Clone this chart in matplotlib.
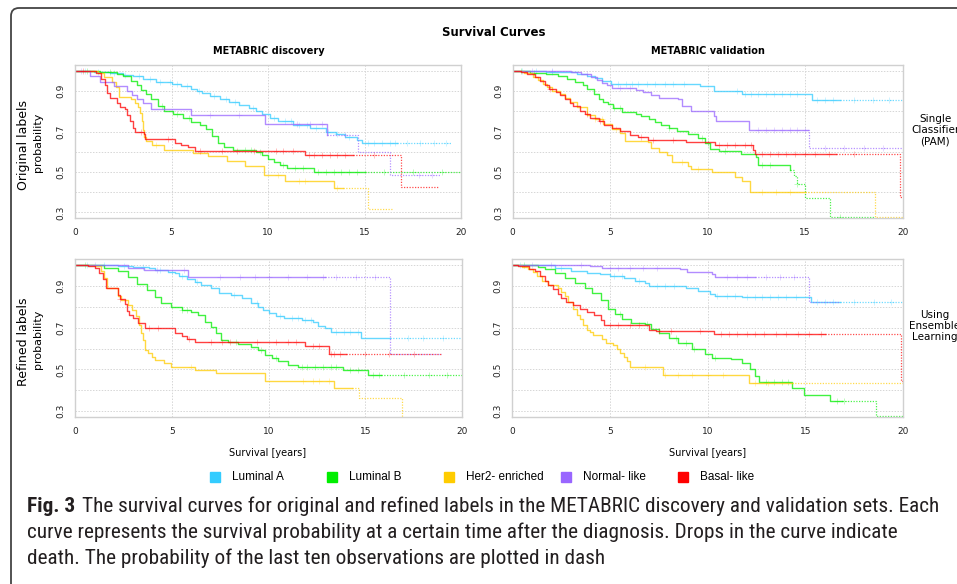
import matplotlib
matplotlib.use("Agg")
import matplotlib.pyplot as plt
import numpy as np
from matplotlib import font_manager as fm
from matplotlib.patches import FancyBboxPatch

# series names and colours
subtypes = ["Luminal A", "Luminal B", "Her2- enriched", "Normal- like", "Basal- like"]
colors = ["#33ccff", "#00ee00", "#ffcc00", "#9966ff", "#ff0000"]

col_titles = ["METABRIC discovery", "METABRIC validation"]
row_labels = ["Original labels", "Refined labels"]
row_notes = ["Single\nClassifier\n(PAM)", "Using\nEnsemble\nLearning"]
xticks = [0, 5, 10, 15, 20]
yticks = [0.3, 0.5, 0.7, 0.9]

# ---- discovery / original labels (p1) ----
# each curve: step times, survival, (start of dashed tail, last time), censor times
p1_luma_t = [0, 1.0, 1.8, 2.5, 3.0, 3.5, 4.2, 5.0, 5.5, 6.0, 6.3, 6.6, 7.0, 7.5, 8.0, 8.5, 9.0, 9.4, 9.7, 10.1, 10.5, 11.3, 12.2, 13.0, 13.5, 14.0, 14.6, 14.85]
p1_luma_s = [1.0, 0.995, 0.99, 0.98, 0.975, 0.96, 0.945, 0.935, 0.925, 0.91, 0.90, 0.89, 0.875, 0.86, 0.845, 0.83, 0.815, 0.80, 0.785, 0.765, 0.75, 0.735, 0.718, 0.698, 0.688, 0.675, 0.66, 0.643]
p1_luma_cut = (16.7, 19.5)
p1_luma_cens = [0.5, 1.2, 2.0, 2.6, 3.3, 3.9, 4.4, 4.9, 5.3, 5.8, 6.4, 7.2, 7.8, 8.3, 9.2, 10.3, 10.9, 11.2, 11.6, 12.0, 12.5, 13.1, 13.6, 14.2, 15.2, 15.5, 15.9, 16.3, 16.6, 17.2, 17.9, 18.6, 19.2]

p1_lumb_t = [0, 1.3, 2.2, 2.5, 2.9, 3.2, 3.4, 3.7, 3.95, 4.3, 4.6, 5.1, 5.6, 6.0, 6.5, 6.8, 7.1, 7.4, 7.7, 8.2, 9.4, 9.7, 10.0, 10.3, 10.6, 11.0, 12.4]
p1_lumb_s = [1.0, 0.995, 0.985, 0.975, 0.95, 0.93, 0.905, 0.885, 0.86, 0.825, 0.80, 0.785, 0.765, 0.745, 0.735, 0.715, 0.68, 0.645, 0.625, 0.61, 0.60, 0.585, 0.565, 0.55, 0.535, 0.52, 0.50]
p1_lumb_cut = (15.0, 20.0)
p1_lumb_cens = [0.6, 1.8, 4.5, 5.3, 5.9, 8.8, 9.1, 9.6, 10.8, 11.4, 11.8, 12.6, 13.0, 13.4, 13.8, 14.2, 14.6, 16.0, 17.5, 19.0]

p1_her2_t = [0, 1.2, 1.5, 1.9, 2.1, 2.3, 2.9, 3.1, 3.25, 3.35, 3.45, 3.52, 3.6, 3.7, 4.0, 4.6, 6.1, 6.9, 7.9, 8.8, 9.8, 10.9, 13.4, 15.2]
p1_her2_s = [1.0, 0.99, 0.97, 0.945, 0.92, 0.87, 0.86, 0.84, 0.82, 0.79, 0.75, 0.71, 0.675, 0.655, 0.635, 0.61, 0.595, 0.58, 0.555, 0.53, 0.485, 0.455, 0.42, 0.315]
p1_her2_cut = (13.9, 16.5)
p1_her2_cens = [4.2, 10.5, 11.6, 11.9, 13.6]

p1_norm_t = [0, 0.8, 1.3, 2.0, 2.7, 2.95, 3.2, 3.5, 3.95, 6.0, 9.85, 13.05, 14.65, 16.3]
p1_norm_s = [1.0, 0.975, 0.945, 0.925, 0.90, 0.88, 0.86, 0.84, 0.81, 0.78, 0.74, 0.685, 0.60, 0.485]
p1_norm_cut = (13.05, 18.9)
p1_norm_cens = [0.3, 7.0, 8.5, 11.5, 12.2, 12.8, 14.0, 17.8, 18.5]

p1_basal_t = [0, 1.1, 1.35, 1.55, 1.67, 1.8, 2.2, 2.35, 2.6, 2.7, 2.85, 3.0, 3.1, 3.55, 3.65, 5.2, 5.5, 5.85, 6.2, 11.9, 16.9]
p1_basal_s = [1.0, 0.99, 0.96, 0.93, 0.89, 0.865, 0.84, 0.82, 0.81, 0.78, 0.75, 0.72, 0.70, 0.69, 0.665, 0.645, 0.635, 0.622, 0.605, 0.585, 0.425]
p1_basal_cut = (14.4, 18.8)
p1_basal_cens = [0.4, 3.4, 4.8, 6.5, 7.6, 8.4, 9.3, 10.4, 10.8, 11.3, 12.1, 12.4, 12.8, 13.2, 13.6, 14.0, 15.5]

# ---- validation / original labels (p2) ----
p2_luma_t = [0, 1.7, 2.8, 3.3, 3.8, 4.2, 4.6, 5.05, 9.6, 10.3, 11.75, 15.35]
p2_luma_s = [1.0, 0.997, 0.993, 0.985, 0.975, 0.965, 0.95, 0.935, 0.925, 0.90, 0.886, 0.857]
p2_luma_cut = (16.8, 20.0)
p2_luma_cens = [0.5, 1.2, 2.0, 5.4, 5.8, 6.1, 6.4, 6.9, 7.3, 7.8, 8.2, 8.8, 11.5, 11.9, 12.2, 12.6, 13.0, 13.4, 13.8, 14.2, 14.6, 15.6, 16.0, 16.4, 17.5, 18.5, 19.3]

p2_lumb_t = [0, 0.9, 1.7, 2.3, 2.8, 3.2, 3.6, 3.8, 4.15, 4.45, 4.65, 4.9, 5.15, 5.6, 6.3, 6.6, 7.0, 7.3, 7.6, 8.0, 8.4, 9.0, 9.5, 9.85, 10.1, 10.6, 11.7, 12.5, 12.6, 14.2, 14.4, 14.6, 15.0, 16.25]
p2_lumb_s = [1.0, 0.99, 0.985, 0.975, 0.96, 0.945, 0.93, 0.91, 0.885, 0.86, 0.845, 0.835, 0.815, 0.795, 0.785, 0.775, 0.76, 0.745, 0.735, 0.72, 0.705, 0.69, 0.67, 0.645, 0.615, 0.605, 0.587, 0.575, 0.537, 0.51, 0.478, 0.44, 0.372, 0.278]
p2_lumb_cut = (14.2, 18.6)
p2_lumb_cens = [0.4, 1.1, 5.2, 5.5, 8.0, 9.7, 10.0, 10.9, 12.8, 13.2, 14.6, 16.8]

p2_her2_t = [0, 0.6, 1.05, 1.3, 1.55, 1.75, 2.0, 2.4, 2.7, 2.95, 3.3, 3.8, 4.2, 4.65, 5.1, 5.5, 5.75, 6.95, 7.1, 7.5, 7.9, 8.15, 9.0, 9.15, 10.2, 11.4, 11.75, 12.17, 18.6]
p2_her2_s = [1.0, 0.99, 0.97, 0.955, 0.935, 0.92, 0.90, 0.885, 0.865, 0.845, 0.82, 0.78, 0.76, 0.74, 0.715, 0.695, 0.655, 0.65, 0.62, 0.60, 0.585, 0.55, 0.53, 0.517, 0.50, 0.476, 0.455, 0.40, 0.275]
p2_her2_cut = (15.0, 20.0)
p2_her2_cens = [4.2, 4.6, 5.3, 8.7, 9.5, 12.8, 13.5, 14.2]

p2_norm_t = [0, 3.0, 3.5, 4.0, 4.3, 4.6, 4.85, 5.1, 6.3, 6.7, 7.1, 7.5, 8.5, 8.7, 9.15, 10.3, 10.4, 12.1, 15.2]
p2_norm_s = [1.0, 0.995, 0.985, 0.97, 0.955, 0.94, 0.93, 0.915, 0.905, 0.895, 0.88, 0.865, 0.86, 0.825, 0.80, 0.775, 0.75, 0.71, 0.62]
p2_norm_cut = (15.15, 20.0)
p2_norm_cens = [1.0, 2.0, 3.8, 5.5, 6.0, 12.6, 13.0, 13.4, 13.8, 14.2, 14.6, 15.0, 16.0, 17.0, 18.0, 19.0]

p2_basal_t = [0, 0.4, 0.75, 1.15, 1.4, 1.65, 1.85, 2.2, 2.45, 2.7, 2.95, 3.1, 3.45, 3.7, 3.95, 4.4, 4.7, 5.1, 5.5, 6.0, 6.4, 6.95, 8.9, 10.35, 12.3, 12.4, 19.85]
p2_basal_s = [1.0, 0.995, 0.985, 0.97, 0.95, 0.93, 0.91, 0.895, 0.88, 0.86, 0.84, 0.825, 0.80, 0.785, 0.765, 0.75, 0.735, 0.72, 0.705, 0.685, 0.675, 0.66, 0.65, 0.635, 0.61, 0.588, 0.377]
p2_basal_cut = (16.6, 19.95)
p2_basal_cens = [1.9, 3.8, 4.5, 6.6, 7.2, 8.2, 10.6, 11.0, 11.4, 11.9, 12.2, 12.8, 13.2, 13.6, 14.0, 14.5, 15.0, 15.5, 16.2, 17.5]

# ---- discovery / refined labels (p3) ----
p3_luma_t = [0, 1.3, 2.2, 3.0, 3.8, 4.1, 4.8, 5.15, 5.35, 5.8, 6.2, 6.5, 7.0, 7.45, 8.05, 8.6, 9.1, 9.45, 9.7, 10.0, 10.4, 10.8, 11.7, 12.3, 12.55, 12.9, 13.25, 14.8]
p3_luma_s = [1.0, 0.997, 0.994, 0.99, 0.983, 0.975, 0.968, 0.96, 0.945, 0.93, 0.918, 0.905, 0.89, 0.865, 0.856, 0.84, 0.818, 0.80, 0.785, 0.77, 0.755, 0.745, 0.737, 0.728, 0.706, 0.697, 0.678, 0.649]
p3_luma_cut = (16.3, 20.0)
p3_luma_cens = [0.6, 1.5, 2.5, 3.5, 4.4, 5.0, 5.5, 6.3, 8.2, 9.4, 10.6, 11.2, 11.5, 11.9, 12.2, 13.5, 13.9, 14.2, 14.6, 17.2, 18.0, 19.0]

p3_lumb_t = [0, 1.0, 1.5, 2.2, 2.7, 3.2, 3.7, 4.1, 4.45, 4.95, 5.5, 6.0, 6.35, 6.7, 7.0, 7.3, 7.55, 7.9, 8.4, 9.1, 9.45, 9.8, 10.15, 10.5, 11.0, 11.5, 13.85, 15.15]
p3_lumb_s = [1.0, 0.997, 0.984, 0.971, 0.944, 0.907, 0.88, 0.848, 0.817, 0.80, 0.785, 0.774, 0.761, 0.729, 0.705, 0.673, 0.641, 0.63, 0.62, 0.609, 0.593, 0.569, 0.553, 0.541, 0.521, 0.51, 0.497, 0.472]
p3_lumb_cut = (15.8, 20.0)
p3_lumb_cens = [0.5, 5.5, 5.8, 8.3, 9.6, 10.4, 11.7, 12.0, 12.4, 12.8, 13.2, 13.5, 14.2, 14.6, 15.4, 15.7, 17.0, 18.3, 19.2]

p3_her2_t = [0, 1.0, 1.35, 1.5, 1.65, 2.2, 2.35, 2.7, 2.95, 3.15, 3.3, 3.4, 3.5, 3.58, 3.75, 3.95, 4.1, 4.6, 4.95, 6.2, 7.3, 9.8, 13.4, 14.65, 16.9]
p3_her2_s = [1.0, 0.995, 0.97, 0.935, 0.89, 0.85, 0.83, 0.81, 0.785, 0.755, 0.71, 0.675, 0.64, 0.595, 0.578, 0.56, 0.545, 0.53, 0.512, 0.497, 0.481, 0.445, 0.413, 0.365, 0.2]
p3_her2_cut = (14.3, 16.9)
p3_her2_cens = [6.0, 11.8, 12.3, 12.6, 13.1]

p3_norm_t = [0, 1.2, 2.7, 3.55, 5.85, 16.3]
p3_norm_s = [1.0, 0.997, 0.987, 0.975, 0.94, 0.576]
p3_norm_cut = (12.9, 18.9)
p3_norm_cens = [1.0, 4.2, 5.6, 7.5, 8.5, 9.3, 10.0, 11.0, 12.0, 12.8, 13.5, 14.5, 15.5]

p3_basal_t = [0, 0.65, 1.0, 1.25, 1.45, 1.6, 2.2, 2.3, 2.55, 2.65, 2.8, 3.0, 3.25, 3.6, 5.15, 5.5, 5.8, 6.2, 11.9, 13.1]
p3_basal_s = [1.0, 0.995, 0.985, 0.96, 0.93, 0.89, 0.855, 0.835, 0.815, 0.78, 0.76, 0.745, 0.72, 0.70, 0.675, 0.66, 0.645, 0.633, 0.613, 0.576]
p3_basal_cut = (14.0, 18.9)
p3_basal_cens = [2.3, 3.8, 4.3, 5.9, 7.0, 7.6, 8.0, 9.4, 10.4, 11.0, 11.4, 12.3, 12.6, 13.2, 13.4, 13.7, 15.0, 16.2, 17.5]

# ---- validation / refined labels (p4) ----
p4_luma_t = [0, 1.3, 2.2, 3.0, 3.8, 4.5, 5.0, 5.7, 6.3, 6.8, 7.0, 8.9, 9.5, 10.1, 10.4, 11.75, 15.3]
p4_luma_s = [1.0, 0.997, 0.987, 0.973, 0.963, 0.955, 0.945, 0.935, 0.925, 0.912, 0.90, 0.89, 0.875, 0.86, 0.85, 0.845, 0.82]
p4_luma_cut = (16.8, 20.0)
p4_luma_cens = [0.4, 2.5, 5.2, 5.6, 6.5, 7.4, 7.8, 8.3, 10.5, 11.0, 11.4, 12.0, 12.4, 12.8, 13.2, 13.6, 14.0, 14.5, 15.6, 16.0, 16.4, 17.5, 18.5, 19.4]

p4_lumb_t = [0, 0.8, 1.3, 1.65, 2.2, 2.7, 3.2, 3.7, 4.1, 4.55, 4.9, 5.25, 5.6, 6.1, 6.8, 7.1, 7.5, 8.0, 8.5, 9.2, 9.85, 10.2, 11.2, 11.75, 12.15, 12.4, 12.65, 14.3, 14.95, 16.25, 18.6]
p4_lumb_s = [1.0, 0.997, 0.99, 0.979, 0.963, 0.939, 0.915, 0.891, 0.867, 0.83, 0.79, 0.765, 0.74, 0.724, 0.716, 0.692, 0.676, 0.652, 0.628, 0.60, 0.572, 0.556, 0.548, 0.532, 0.50, 0.468, 0.442, 0.412, 0.38, 0.35, 0.276]
p4_lumb_cut = (16.9, 20.0)
p4_lumb_cens = [0.6, 5.5, 6.9, 8.4, 8.9, 9.3, 10.4, 13.0, 13.4, 13.8, 14.1, 16.6, 17.0]

p4_her2_t = [0, 0.5, 0.8, 1.05, 1.25, 1.5, 1.85, 2.35, 2.5, 2.7, 2.85, 3.1, 3.3, 3.45, 3.6, 3.8, 4.0, 4.15, 4.6, 4.8, 5.15, 5.35, 5.5, 5.7, 5.85, 6.0, 7.7, 12.1]
p4_her2_s = [1.0, 0.99, 0.98, 0.965, 0.945, 0.925, 0.905, 0.89, 0.87, 0.85, 0.82, 0.79, 0.76, 0.74, 0.71, 0.69, 0.68, 0.665, 0.645, 0.625, 0.615, 0.60, 0.58, 0.56, 0.54, 0.51, 0.472, 0.436]
p4_her2_cut = (14.3, 20.0)
p4_her2_cens = [6.8, 7.8, 8.5, 9.2, 10.0, 10.8, 12.4, 13.1]

p4_norm_t = [0, 4.0, 4.6, 8.6, 8.95, 10.2, 10.4, 15.2]
p4_norm_s = [1.0, 0.995, 0.986, 0.978, 0.966, 0.958, 0.942, 0.82]
p4_norm_cut = (12.4, 16.8)
p4_norm_cens = [1.0, 2.0, 3.5, 5.0, 5.4, 6.0, 6.7, 7.4, 11.0, 11.5, 12.0, 13.0, 13.7, 14.4]

p4_basal_t = [0, 0.3, 0.85, 1.15, 1.4, 1.65, 1.85, 2.1, 2.35, 2.5, 2.75, 3.1, 3.45, 3.8, 4.2, 4.55, 4.7, 7.0, 7.35, 10.35, 19.9]
p4_basal_s = [1.0, 0.995, 0.98, 0.97, 0.945, 0.925, 0.905, 0.885, 0.86, 0.84, 0.82, 0.81, 0.79, 0.775, 0.76, 0.735, 0.71, 0.69, 0.684, 0.668, 0.445]
p4_basal_cut = (16.0, 20.0)
p4_basal_cens = [5.0, 5.4, 6.0, 6.5, 7.5, 8.1, 9.6, 10.7, 11.1, 11.5, 12.0, 12.4, 12.9, 13.5, 14.0, 14.6, 15.2, 15.8]

panels = [
    [(p1_luma_t, p1_luma_s, p1_luma_cut, p1_luma_cens), (p1_lumb_t, p1_lumb_s, p1_lumb_cut, p1_lumb_cens),
     (p1_her2_t, p1_her2_s, p1_her2_cut, p1_her2_cens), (p1_norm_t, p1_norm_s, p1_norm_cut, p1_norm_cens),
     (p1_basal_t, p1_basal_s, p1_basal_cut, p1_basal_cens)],
    [(p2_luma_t, p2_luma_s, p2_luma_cut, p2_luma_cens), (p2_lumb_t, p2_lumb_s, p2_lumb_cut, p2_lumb_cens),
     (p2_her2_t, p2_her2_s, p2_her2_cut, p2_her2_cens), (p2_norm_t, p2_norm_s, p2_norm_cut, p2_norm_cens),
     (p2_basal_t, p2_basal_s, p2_basal_cut, p2_basal_cens)],
    [(p3_luma_t, p3_luma_s, p3_luma_cut, p3_luma_cens), (p3_lumb_t, p3_lumb_s, p3_lumb_cut, p3_lumb_cens),
     (p3_her2_t, p3_her2_s, p3_her2_cut, p3_her2_cens), (p3_norm_t, p3_norm_s, p3_norm_cut, p3_norm_cens),
     (p3_basal_t, p3_basal_s, p3_basal_cut, p3_basal_cens)],
    [(p4_luma_t, p4_luma_s, p4_luma_cut, p4_luma_cens), (p4_lumb_t, p4_lumb_s, p4_lumb_cut, p4_lumb_cens),
     (p4_her2_t, p4_her2_s, p4_her2_cut, p4_her2_cens), (p4_norm_t, p4_norm_s, p4_norm_cut, p4_norm_cens),
     (p4_basal_t, p4_basal_s, p4_basal_cut, p4_basal_cens)],
]

caption_bold = "Fig. 3"
caption_lines = [
    "The survival curves for original and refined labels in the METABRIC discovery and validation sets. Each",
    "curve represents the survival probability at a certain time after the diagnosis. Drops in the curve indicate",
    "death. The probability of the last ten observations are plotted in dash",
]


def step_value(t, s, x):
    i = np.searchsorted(t, x, side="right") - 1
    return np.asarray(s)[np.clip(i, 0, len(s) - 1)]


def step_part(t, s, lo, hi):
    # pieces of the step curve between lo and hi
    xs = [lo]
    ys = [step_value(t, s, lo)]
    for ti, si in zip(t, s):
        if lo < ti <= hi:
            xs.append(ti)
            ys.append(si)
    xs.append(hi)
    ys.append(ys[-1])
    return xs, ys


# a narrow face for the caption if one is installed
installed = {f.name for f in fm.fontManager.ttflist}
cap_kw = {"family": ["Liberation Sans", "DejaVu Sans"]}
for cand in ["Liberation Sans Narrow", "Roboto Condensed", "Open Sans Condensed", "Noto Sans Condensed"]:
    if cand in installed:
        cap_kw = {"family": [cand, "DejaVu Sans"]}
        break
else:
    if any(f.name == "DejaVu Sans" and "ondensed" in f.fname for f in fm.fontManager.ttflist):
        cap_kw = {"family": ["DejaVu Sans"], "fontstretch": "condensed"}

W, H = 957, 584
fig = plt.figure(figsize=(W / 100, H / 100), dpi=100)

# overlay in pixel coordinates for box, titles, legend, caption
ov = fig.add_axes([0, 0, 1, 1])
ov.set_xlim(0, W)
ov.set_ylim(H, 0)
ov.axis("off")
ov.add_patch(FancyBboxPatch((11, 8), 980, 620, boxstyle="round,pad=0,rounding_size=8",
                            fc="white", ec="#444444", lw=1.3))


def px_axes(l, t, r, b):
    return fig.add_axes([l / W, 1 - b / H, (r - l) / W, (b - t) / H])


axes = [px_axes(75, 65.3, 461, 218.3), px_axes(512.7, 65.3, 902.7, 218.3),
        px_axes(75.3, 259, 462, 417.3), px_axes(512.3, 259, 903, 417.3)]

for k, ax in enumerate(axes):
    for (t, s, cut, cens), c in zip(panels[k], colors):
        xs, ys = step_part(t, s, 0, cut[0])
        ax.plot(xs, ys, drawstyle="steps-post", color=c, lw=1.0, alpha=0.75)
        xs, ys = step_part(t, s, cut[0], cut[1])
        ax.plot(xs, ys, drawstyle="steps-post", color=c, lw=0.9, alpha=0.7, ls=(0, (1, 1.2)))
        ax.plot(cens, step_value(t, s, cens), ls="none", marker="+", ms=5, mew=0.7,
                color=c, alpha=0.25)
    ax.set_xlim(0, 20)
    ax.set_ylim(0.271, 1.028)
    ax.set_xticks(xticks)
    ax.set_yticks(yticks)
    ax.set_yticks(np.arange(0.3, 1.01, 0.1), minor=True)
    ax.set_yticklabels([f"{v:.1f}" for v in yticks], rotation=90, va="center")
    ax.tick_params(which="both", length=0, labelsize=6.5, labelcolor="#222222")
    ax.tick_params(axis="x", pad=7)
    ax.tick_params(axis="y", pad=7)
    ax.grid(True, which="both", color="#d6d6d6", lw=0.7, ls=(0, (1.5, 1.5)))
    ax.set_axisbelow(True)
    for sp in ax.spines.values():
        sp.set_color("#d0d0d0")
        sp.set_linewidth(1.0)

# titles
ov.text(494, 32, "Survival Curves", ha="center", va="center", fontsize=8.5, fontweight="bold")
ov.text(268.5, 51, col_titles[0], ha="center", va="center", fontsize=7, fontweight="bold")
ov.text(707.5, 51, col_titles[1], ha="center", va="center", fontsize=7, fontweight="bold")

# row labels
for yc, lab in zip([145, 342], row_labels):
    ov.text(24, yc, lab, ha="center", va="center", rotation=90, fontsize=9)
    ov.text(38.5, yc - 3, "probability", ha="center", va="center", rotation=90, fontsize=8)
for yc, note in zip([130, 326], row_notes):
    ov.text(935, yc, note, ha="center", va="center", fontsize=7.5, linespacing=1.15)

ov.text(268, 453, "Survival [years]", ha="center", va="center", fontsize=7)
ov.text(707.5, 453, "Survival [years]", ha="center", va="center", fontsize=7)

# legend
for i, (name, c) in enumerate(zip(subtypes, colors)):
    x0 = 215 + 117 * i
    ov.plot([x0], [476.5], marker="s", ms=7, color=c, ls="none")
    ov.text(x0 + 17, 477, name, ha="left", va="center", fontsize=8.5, family="Liberation Sans")

# caption, sized so the first line runs from x=27 to about x=940
cap_size = 13
tb = ov.text(27, 506, caption_bold, ha="left", va="center", fontsize=cap_size, fontweight="bold",
             color="#231f20", **cap_kw)
caps = [ov.text(27, y, line, ha="left", va="center", fontsize=cap_size, color="#231f20", **cap_kw)
        for y, line in zip([506, 532, 558], caption_lines)]
r = fig.canvas.get_renderer()
for _ in range(3):
    bw = tb.get_window_extent(r).width
    caps[0].set_x(27 + bw + 0.45 * cap_size)
    x1 = caps[0].get_window_extent(r).x1
    cap_size = min(16, cap_size * (940 - 27) / (x1 - 27))
    tb.set_fontsize(cap_size)
    for c in caps:
        c.set_fontsize(cap_size)
bw = tb.get_window_extent(r).width
caps[0].set_x(27 + bw + 0.45 * cap_size)

fig.savefig("out.png", dpi=100)
